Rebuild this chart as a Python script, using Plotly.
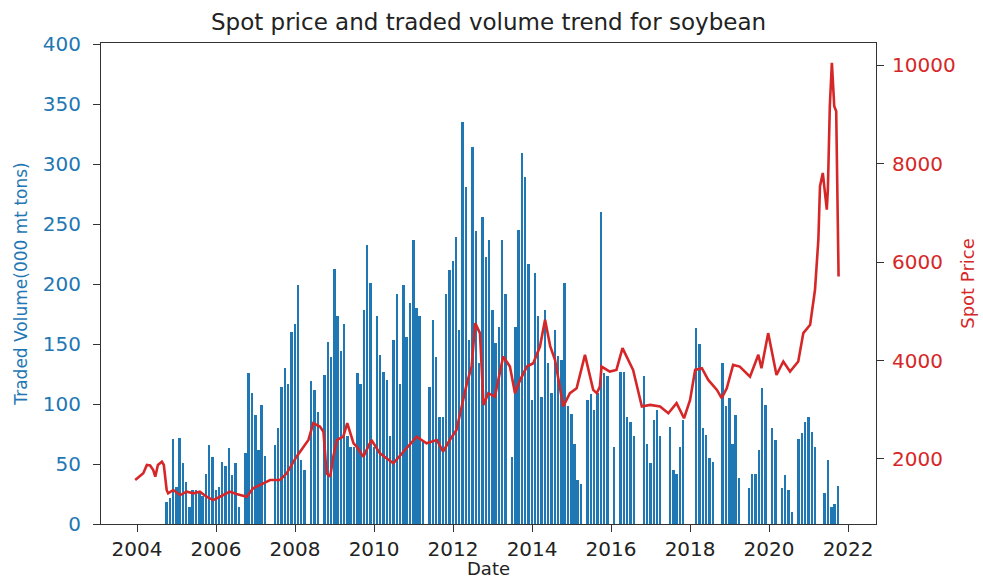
import pandas as pd
import plotly.graph_objects as go

# Monthly traded volume (000 mt tons), Jan 2004 .. Oct 2021
vol_2004 = [0, 0, 0, 0, 0, 0, 0, 0, 0, 18, 22, 71]
vol_2005 = [31, 72, 51, 35, 14, 28, 28, 26, 23, 42, 66, 56]
vol_2006 = [28, 31, 52, 48, 63, 41, 51, 14, 0, 59, 126, 109]
vol_2007 = [91, 62, 99, 57, 0, 0, 66, 80, 114, 130, 117, 160]
vol_2008 = [167, 199, 53, 45, 0, 119, 112, 93, 0, 124, 152, 139]
vol_2009 = [213, 173, 144, 167, 73, 64, 64, 126, 117, 178, 233, 201]
vol_2010 = [64, 173, 141, 127, 120, 73, 153, 192, 117, 199, 156, 184]
vol_2011 = [237, 180, 173, 70, 0, 114, 170, 139, 89, 89, 192, 212]
vol_2012 = [219, 239, 162, 335, 281, 153, 314, 244, 134, 256, 223, 237]
vol_2013 = [178, 151, 164, 237, 192, 0, 56, 164, 245, 309, 289, 217]
vol_2014 = [103, 209, 173, 106, 178, 134, 109, 162, 140, 137, 201, 98]
vol_2015 = [92, 67, 37, 33, 0, 103, 108, 95, 109, 260, 126, 123]
vol_2016 = [0, 64, 0, 127, 127, 89, 85, 73, 0, 0, 123, 67]
vol_2017 = [51, 87, 95, 73, 0, 0, 81, 45, 42, 64, 87, 0]
vol_2018 = [0, 0, 163, 150, 80, 74, 55, 52, 0, 0, 134, 98]
vol_2019 = [105, 67, 91, 38, 0, 0, 30, 42, 42, 62, 113, 99]
vol_2020 = [0, 80, 70, 0, 30, 41, 28, 10, 0, 71, 76, 85]
vol_2021 = [89, 77, 64, 0, 0, 26, 53, 14, 17, 32]

volume = (vol_2004 + vol_2005 + vol_2006 + vol_2007 + vol_2008 + vol_2009 +
          vol_2010 + vol_2011 + vol_2012 + vol_2013 + vol_2014 + vol_2015 +
          vol_2016 + vol_2017 + vol_2018 + vol_2019 + vol_2020 + vol_2021)
vol_dates = pd.date_range("2004-01-01", periods=len(volume), freq="MS")

# Spot price
price_dates = [
    "2003-12-15", "2004-02-28", "2004-04-01", "2004-05-01", "2004-05-30", "2004-06-18",
    "2004-07-12", "2004-08-18", "2004-09-05", "2004-10-01", "2004-10-15", "2004-12-01",
    "2005-02-03", "2005-04-05", "2005-06-06", "2005-08-04", "2005-10-05", "2005-12-05",
    "2006-02-06", "2006-05-08", "2006-07-09", "2006-10-12", "2006-12-09", "2007-03-15",
    "2007-05-16", "2007-08-15", "2007-10-16", "2008-01-15", "2008-03-17", "2008-05-04",
    "2008-06-18", "2008-08-18", "2008-09-20", "2008-10-19", "2008-11-21", "2008-12-20",
    "2009-01-22", "2009-03-22", "2009-04-28", "2009-06-25", "2009-07-24", "2009-09-24",
    "2009-12-08", "2010-02-24", "2010-06-28", "2010-10-30", "2011-01-30", "2011-05-01",
    "2011-08-04", "2011-10-01", "2011-12-02", "2012-02-02", "2012-05-08", "2012-06-21",
    "2012-07-24", "2012-09-06", "2012-10-09", "2012-11-22", "2013-01-22", "2013-04-09",
    "2013-06-10", "2013-07-27", "2013-09-13", "2013-11-14", "2014-01-12", "2014-03-15",
    "2014-05-01", "2014-06-18", "2014-08-01", "2014-10-16", "2014-12-17", "2015-02-17",
    "2015-05-05", "2015-07-20", "2015-08-22", "2015-09-20", "2015-10-05", "2015-12-20",
    "2016-02-20", "2016-04-16", "2016-07-23", "2016-10-12", "2016-12-27", "2017-03-29",
    "2017-06-14", "2017-08-29", "2017-11-06", "2018-01-01", "2018-02-17", "2018-04-20",
    "2018-06-18", "2018-09-06", "2018-10-20", "2018-12-06", "2019-02-03", "2019-04-05",
    "2019-07-09", "2019-09-24", "2019-10-23", "2019-12-24", "2020-03-10", "2020-05-12",
    "2020-07-13", "2020-09-27", "2020-11-13", "2021-01-15", "2021-03-01", "2021-04-01",
    "2021-04-16", "2021-05-12", "2021-06-18", "2021-06-28", "2021-07-16", "2021-08-04",
    "2021-08-26", "2021-09-13", "2021-10-05",
]
price = [
    1573, 1710, 1878, 1870, 1776, 1640,
    1878, 1946, 1878, 1370, 1302, 1370,
    1268, 1336, 1302, 1336, 1234, 1166,
    1234, 1336, 1290, 1234, 1404, 1505,
    1573, 1573, 1709, 2047, 2250, 2386,
    2726, 2658, 2555, 1709, 1641, 2047,
    2386, 2454, 2726, 2318, 2250, 2047,
    2386, 2115, 1912, 2217, 2454, 2318,
    2386, 2149, 2386, 2590, 3539, 3877,
    4759, 4556, 3098, 3336, 3268, 4081,
    3877, 3336, 3606, 3877, 3945, 4284,
    4826, 4284, 4013, 3065, 3336, 3437,
    4115, 3403, 3336, 3470, 3877, 3775,
    3809, 4250, 3809, 3065, 3098, 3065,
    2929, 3132, 2827, 3200, 3809, 3843,
    3606, 3403, 3234, 3437, 3911, 3877,
    3673, 4115, 3843, 4556, 3708, 3979,
    3775, 3979, 4556, 4725, 5436, 6453,
    7536, 7808, 7062, 7469, 9162, 10044,
    9162, 9060, 5707,
]

year_ticks = ["2004", "2006", "2008", "2010", "2012", "2014", "2016", "2018", "2020", "2022"]
vol_ticks = [0, 50, 100, 150, 200, 250, 300, 350, 400]
price_ticks = [2000, 4000, 6000, 8000, 10000]

BLUE = "#1f77b4"
RED = "#d62728"
FONT = "DejaVu Sans"

fig = go.Figure()
fig.add_trace(go.Bar(
    x=vol_dates, y=volume, yaxis="y",
    marker=dict(color=BLUE, line=dict(width=0)),
    width=18 * 24 * 3600 * 1000,
    name="Traded Volume",
))
fig.add_trace(go.Scatter(
    x=price_dates, y=price, yaxis="y2", mode="lines",
    line=dict(color=RED, width=2.6),
    name="Spot Price",
))

fig.update_layout(
    width=983, height=579,
    margin=dict(l=101, r=107, t=43, b=55, autoexpand=False),
    paper_bgcolor="white", plot_bgcolor="white",
    showlegend=False,
    font=dict(family=FONT, size=20, color="#222"),
    title=dict(text="Spot price and traded volume trend for soybean",
               x=0.5, xref="paper", y=0.962, yref="container", yanchor="middle",
               font=dict(family=FONT, size=23, color="#222")),
    xaxis=dict(
        type="date", automargin=False,
        range=["2003-02-02", "2022-09-16"],
        tickvals=[y + "-01-01" for y in year_ticks],
        ticktext=year_ticks,
        showgrid=False, zeroline=False,
        showline=True, linecolor="#333", linewidth=1.2, mirror=True,
        ticks="outside", ticklen=7, tickcolor="#333",
        tickfont=dict(size=20, color="#222"),
        title=dict(text="Date", font=dict(size=18, color="#222"), standoff=4),
    ),
    yaxis=dict(
        range=[0, 401], automargin=False,
        tickvals=vol_ticks, ticktext=[str(v) for v in vol_ticks],
        showgrid=False, zeroline=False,
        showline=True, linecolor="#333", linewidth=1.2,
        ticks="outside", ticklen=7, tickcolor="#333",
        ticklabelstandoff=8,
        tickfont=dict(size=20, color=BLUE),
        title=dict(text="Traded Volume(000 mt tons)", font=dict(size=17, color=BLUE), standoff=10),
    ),
    yaxis2=dict(
        overlaying="y", side="right", automargin=False,
        range=[680, 10447],
        tickvals=price_ticks, ticktext=[str(v) for v in price_ticks],
        showgrid=False, zeroline=False,
        showline=True, linecolor="#333", linewidth=1.2,
        ticks="outside", ticklen=7, tickcolor="#333",
        ticklabelstandoff=4,
        tickfont=dict(size=20, color=RED),
        title=dict(text="Spot Price", font=dict(size=18, color=RED), standoff=6),
    ),
    bargap=0,
)

fig.write_html("out.html", config={"displayModeBar": False},
               post_script="document.body.style.margin='0';")
